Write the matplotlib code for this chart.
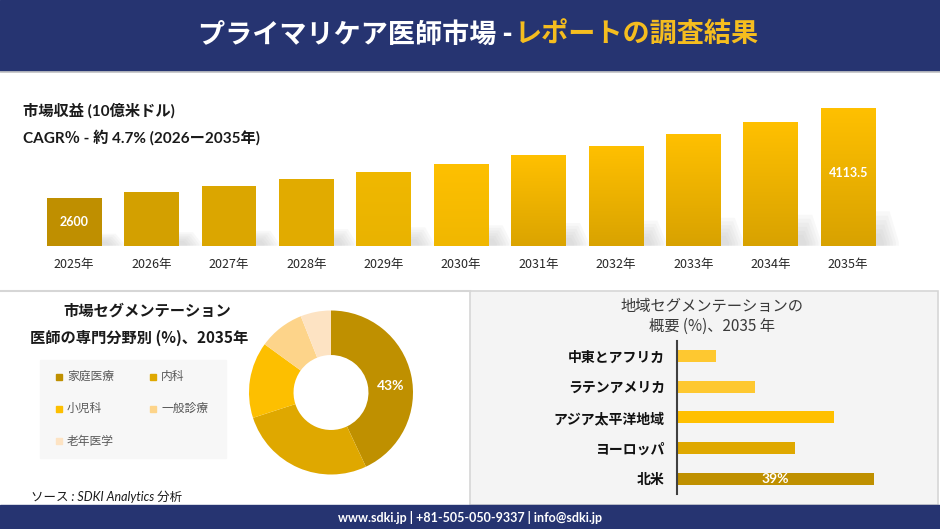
import numpy as np
import matplotlib
matplotlib.use("Agg")
import matplotlib.pyplot as plt
from matplotlib.patches import Rectangle, Polygon
from matplotlib.colors import LinearSegmentedColormap

plt.rcParams['font.family'] = ['Noto Sans CJK JP', 'DejaVu Sans']
NUM = ['Lato', 'Noto Sans CJK JP', 'DejaVu Sans']

# ---- data ----
years = ['2025年', '2026年', '2027年', '2028年', '2029年', '2030年',
         '2031年', '2032年', '2033年', '2034年', '2035年']
revenue = [2600, 2700, 2800, 2910, 3030, 3170, 3320, 3480, 3670, 3880, 4113.5]
revenue_labels = {0: '2600', 10: '4113.5'}

specialties = ['家庭医療', '内科', '小児科', '一般診療', '老年医学']
specialty_share = [43, 27, 15, 9, 6]

regions = ['中東とアフリカ', 'ラテンアメリカ', 'アジア太平洋地域', 'ヨーロッパ', '北米']
region_share = [7.7, 15.5, 31.1, 23.3, 39.0]

# ---- styles ----
NAVY = '#263471'
YELLOW = '#f5bd1f'
bar_top = ['#bf8f00', '#d3a000', '#dba600', '#e1ab00', '#f0b800', '#fec000',
           '#ffc000', '#ffc000', '#ffc000', '#ffc000', '#ffc000']
bar_bot = ['#bf8f00', '#d3a000', '#dba600', '#e1ab00', '#e9b300', '#f0b700',
           '#dba400', '#d9a300', '#d8a200', '#d8a200', '#d8a200']
pie_colors = ['#bf9000', '#dfa800', '#fdbf00', '#fdd48a', '#fde3c3']
region_colors = ['#fec830', '#fec830', '#ffc000', '#dfa800', '#bf9000']

W, H = 940, 529
fig = plt.figure(figsize=(W / 100, H / 100), dpi=100)


def px_axes(x0, y0, x1, y1):
    # axes from pixel box (top-left origin)
    return fig.add_axes([x0 / W, (H - y1) / H, (x1 - x0) / W, (y1 - y0) / H])


# background / layout layer in pixel coords
bg = fig.add_axes([0, 0, 1, 1], zorder=0)
bg.set_xlim(0, W)
bg.set_ylim(H, 0)
bg.axis('off')

bg.add_patch(Rectangle((0, 0), W, 71, color=NAVY))
bg.plot([0, W], [72, 72], color='#c8c8c8', lw=1.2)
bg.text(512, 35, 'プライマリケア医師市場 -', color='white', fontsize=19.5,
        fontweight='bold', ha='right', va='center')
bg.text(515, 35, 'レポートの調査結果', color=YELLOW, fontsize=19.5,
        fontweight='bold', ha='left', va='center')

bg.text(23, 111, '市場収益 (10億米ドル)', fontsize=11, fontweight='bold',
        color='#1a1a1a', ha='left', va='center', family=NUM)
bg.text(23, 138, 'CAGR％ - 約 4.7% (2026ー2035年)', fontsize=11, fontweight='bold',
        color='#1a1a1a', ha='left', va='center', family=NUM)

# panels
bg.plot([0, 470], [291, 291], color='#d6d6d6', lw=1.5)
bg.add_patch(Rectangle((470, 291), 468, 214, facecolor='#f4f4f4',
                       edgecolor='#d6d6d6', lw=1.2))
bg.add_patch(Rectangle((0, 505), W, 24, color=NAVY))
bg.text(470, 518, 'www.sdki.jp | +81-505-050-9337 | info@sdki.jp', color='white',
        fontsize=9, fontweight='bold', ha='center', va='center', family=NUM)
bg.text(31, 497, 'ソース : SDKI Analytics 分析', fontsize=9, style='italic',
        color='#1a1a1a', ha='left', va='center', family=NUM)

# left segment titles + legend
bg.text(147, 311, '市場セグメンテーション', fontsize=11, fontweight='bold',
        ha='center', va='center', color='#1a1a1a')
bg.text(139, 338, '医師の専門分野別 (%)、2035年', fontsize=11, fontweight='bold',
        ha='center', va='center', color='#1a1a1a')
bg.add_patch(Rectangle((40, 360), 186, 98, color='#f7f7f7'))
leg_pos = [(59, 376.5), (153, 376.5), (59, 408.5), (153, 408.5), (59, 441)]
for (lx, ly), name, c in zip(leg_pos, specialties, pie_colors):
    bg.add_patch(Rectangle((lx - 3, ly - 3), 6, 6, color=c))
    bg.text(lx + 8, ly, name, fontsize=8.5, color='#595959', ha='left', va='center')

# right segment title
bg.text(712, 306, '地域セグメンテーションの', fontsize=11, color='#3a3a3a',
        ha='center', va='center')
bg.text(712, 326, '概要 (%)、2035 年', fontsize=11, color='#3a3a3a',
        ha='center', va='center')

# ---- revenue bars ----
base = 1790
ax = px_axes(0, 100, W, 245.7)
ax.patch.set_alpha(0)
x = np.arange(len(years))
bw = 0.71
vals = np.array(revenue) - base
bars = ax.bar(x, vals, bottom=base, width=bw, color=bar_top, zorder=3)
for i, b in enumerate(bars):
    xr = b.get_x() + bw
    hs = 0.25 * vals[i]
    # soft shadow: a few stacked translucent layers
    for k in range(6):
        f = 1 - k * 0.13
        ax.add_patch(Polygon([(xr - 0.3, base), (xr - 0.3, base + hs * f),
                              (xr + 0.18 * f, base + hs * f),
                              (xr + 0.3 * f, base + hs * 0.1), (xr + 0.3 * f, base)],
                             closed=True, color='#b8b8b8', alpha=0.09, lw=0, zorder=1))
    if bar_top[i] != bar_bot[i]:
        cmap = LinearSegmentedColormap.from_list('g%d' % i, [bar_bot[i], bar_top[i]])
        im = ax.imshow(np.linspace(0, 1, 100).reshape(-1, 1), cmap=cmap, aspect='auto',
                       origin='lower', extent=[b.get_x(), xr, base, revenue[i]], zorder=4)
        im.set_clip_path(b)
    ax.annotate(years[i], (x[i], base), xytext=(0, -13.5), textcoords='offset points',
                ha='center', va='center', fontsize=9, color='#262626')
for i, lab in revenue_labels.items():
    frac = 0.5 if i == 0 else 0.53
    ax.text(x[i], base + vals[i] * frac, lab, color='white', fontsize=9,
            fontweight='bold', ha='center', va='center', family=NUM, zorder=5)
ax.set_xlim((0 - 74.2) / 77.4, (W - 74.2) / 77.4)
ax.set_ylim(base, base + 145.7 * 16.87)
ax.axis('off')

# ---- donut ----
axp = px_axes(331 - 95, 392.5 - 95, 331 + 95, 392.5 + 95)
r_out = 82 / 95
wedges, _ = axp.pie(specialty_share, colors=pie_colors, startangle=90,
                    counterclock=False, radius=r_out,
                    wedgeprops=dict(width=r_out * 0.543, linewidth=0))
w0 = wedges[0]
mid = np.deg2rad((w0.theta1 + w0.theta2) / 2 - 6)
rm = r_out * (1 - 0.543 / 2)
axp.text(rm * np.cos(mid), rm * np.sin(mid), f'{specialty_share[0]}%', color='white',
         fontsize=10, fontweight='bold', ha='center', va='center', family=NUM)
axp.set_xlim(-1, 1)
axp.set_ylim(-1, 1)

# ---- region bars ----
axh = px_axes(677.3, 340.7, W, 494)
axh.patch.set_alpha(0)
yy = np.arange(len(regions))
axh.barh(yy, region_share, height=0.39, color=region_colors)
axh.set_xlim(0, (W - 677.3) / 5.044)
axh.set_ylim(4.5, -0.5)
axh.set_yticks(yy)
axh.set_yticklabels(regions, fontsize=10, fontweight='bold', color='#111111')
axh.tick_params(axis='y', length=0, pad=9)
axh.set_xticks([])
for s in ['top', 'right', 'bottom']:
    axh.spines[s].set_visible(False)
axh.spines['left'].set_color('#404040')
axh.spines['left'].set_linewidth(1.5)
axh.text(region_share[4] / 2, 4, f'{region_share[4]:.0f}%', color='white', fontsize=10,
         fontweight='bold', ha='center', va='center', family=NUM)

fig.savefig('out.png', dpi=100)
